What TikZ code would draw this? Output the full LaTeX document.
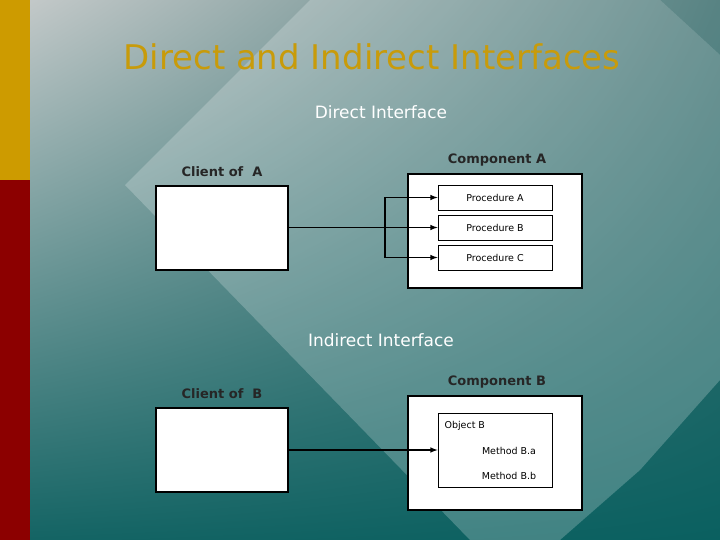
\documentclass[tikz,border=0pt]{standalone}
\usepackage{fontspec}
\setmainfont{DejaVu Sans}
\usetikzlibrary{shadings}
\definecolor{bgul}{RGB}{200,204,204}
\definecolor{bgur}{RGB}{70,118,118}
\definecolor{bgll}{RGB}{20,100,100}
\definecolor{bglr}{RGB}{10,96,96}
\definecolor{gold}{RGB}{205,155,0}
\definecolor{ttl}{RGB}{200,155,10}
\definecolor{dred}{RGB}{140,0,0}
\begin{document}
\begin{tikzpicture}[x=1pt,y=-1pt,
  wbox/.style={draw=black,fill=white,line width=2.2pt},
  pbox/.style={draw=black,fill=white,line width=0.8pt},
  lbl/.style={font=\fontsize{13}{15}\selectfont\bfseries,text=black!85},
  hdr/.style={font=\fontsize{17}{20}\selectfont,text=white},
  sm/.style={font=\fontsize{9.5}{11}\selectfont},
  conn/.style={line width=1.5pt,-latex}]
\useasboundingbox (0,0) rectangle (720,540);
\shade[upper left=bgul, upper right=bgur, lower left=bgll, lower right=bglr] (0,0) rectangle (720,540);
\fill[white,opacity=0.22] (125,185) -- (310,0) -- (660,0) -- (720,55) -- (720,380) -- (640,470) -- (560,540) -- (470,540) -- cycle;
\fill[white,opacity=0.10] (660,0) -- (720,0) -- (720,55) -- cycle;
\fill[gold] (0,0) rectangle (30,180);
\fill[dred] (0,180) rectangle (30,540);
\node[font=\fontsize{34}{40}\selectfont,text=ttl] (title) at (372,57) {Direct and Indirect Interfaces};
\node[hdr] (dh) at (381,112) {Direct Interface};
\node[hdr] (ih) at (381,340) {Indirect Interface};
% direct
\node[wbox,minimum width=132,minimum height=84] (ca) at (222,228) {};
\node[lbl] (cal) at (222,172) {Client of\ \ A};
\node[wbox,minimum width=174,minimum height=114] (coa) at (495,231) {};
\node[lbl] (coal) at (497,160) {Component A};
\node[pbox,minimum width=114,minimum height=25,sm] (pa) at (495,197.5) {Procedure A};
\node[pbox,minimum width=114,minimum height=25,sm] (pb) at (495,227.5) {Procedure B};
\node[pbox,minimum width=114,minimum height=25,sm] (pc) at (495,257.5) {Procedure C};
\coordinate (jn) at (385,227.5);
\draw[conn] (ca.east |- pb) -- (pb.west);
\draw[conn] (jn) |- (pa.west);
\draw[conn] (jn) |- (pc.west);
% indirect
\node[wbox,minimum width=132,minimum height=84] (cb) at (222,450) {};
\node[lbl] (cbl) at (222,394) {Client of\ \ B};
\node[wbox,minimum width=174,minimum height=114] (cob) at (495,453) {};
\node[lbl] (cobl) at (497,382) {Component B};
\node[pbox,minimum width=114,minimum height=74] (ob) at (495,450) {};
\node[sm,anchor=west] (obt) at (441,426) {Object B};
\node[sm] (ma) at (509,451) {Method B.a};
\node[sm] (mb) at (509,476) {Method B.b};
\draw[conn] (cb.east) -- (ob.west);
\end{tikzpicture}
\end{document}
